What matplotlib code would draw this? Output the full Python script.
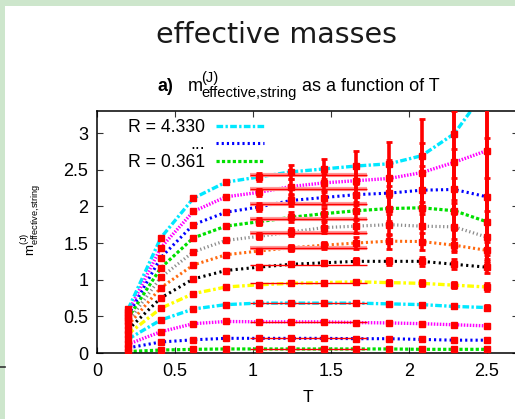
import matplotlib
matplotlib.use("Agg")
import matplotlib.pyplot as plt
from matplotlib.lines import Line2D
from matplotlib.patches import Rectangle

plt.rcParams['font.family'] = ['Liberation Sans', 'DejaVu Sans']
plt.rcParams['mathtext.fontset'] = 'custom'
plt.rcParams['mathtext.rm'] = 'Liberation Sans'
plt.rcParams['mathtext.it'] = 'Liberation Sans:italic'
plt.rcParams['mathtext.bf'] = 'Liberation Sans:bold'

# ---------------- data ----------------
T = [0.2, 0.409, 0.618, 0.827, 1.036, 1.245, 1.455, 1.664, 1.873, 2.082, 2.291, 2.5]

m_c0 = [0.02, 0.04, 0.05, 0.055, 0.055, 0.055, 0.055, 0.055, 0.055, 0.05, 0.05, 0.05]
m_c1 = [0.07, 0.15, 0.18, 0.20, 0.20, 0.20, 0.20, 0.195, 0.195, 0.185, 0.175, 0.175]
m_c2 = [0.12, 0.29, 0.40, 0.43, 0.425, 0.425, 0.425, 0.415, 0.41, 0.40, 0.385, 0.37]
m_c3 = [0.19, 0.45, 0.60, 0.66, 0.68, 0.68, 0.68, 0.68, 0.67, 0.66, 0.635, 0.62]
m_c4 = [0.26, 0.61, 0.81, 0.90, 0.93, 0.95, 0.96, 0.97, 0.96, 0.95, 0.925, 0.90]
m_c5 = [0.32, 0.75, 1.01, 1.125, 1.17, 1.21, 1.23, 1.25, 1.25, 1.25, 1.21, 1.17]
m_c6 = [0.38, 0.89, 1.20, 1.34, 1.39, 1.435, 1.47, 1.50, 1.525, 1.52, 1.47, 1.40]
m_c7 = [0.43, 1.03, 1.38, 1.535, 1.59, 1.65, 1.71, 1.73, 1.75, 1.73, 1.72, 1.58]
m_c8 = [0.48, 1.16, 1.57, 1.73, 1.79, 1.85, 1.90, 1.94, 1.97, 1.98, 1.94, 1.79]
m_c9 = [0.52, 1.30, 1.75, 1.92, 1.99, 2.08, 2.12, 2.16, 2.18, 2.22, 2.23, 2.13]
m_c10 = [0.56, 1.435, 1.93, 2.13, 2.19, 2.27, 2.32, 2.35, 2.38, 2.46, 2.60, 2.76]
m_c11 = [0.60, 1.57, 2.11, 2.33, 2.40, 2.47, 2.51, 2.55, 2.58, 2.69, 2.99, 3.6]

e_c0 = [0.01] * 12
e_c1 = [0.01] * 12
e_c2 = [0.015] * 12
e_c3 = [0.02] * 9 + [0.02, 0.025, 0.03]
e_c4 = [0.02] * 7 + [0.03, 0.03, 0.04, 0.04, 0.05]
e_c5 = [0.02] * 4 + [0.03, 0.03, 0.03, 0.04, 0.05, 0.06, 0.07, 0.08]
e_c6 = [0.02] * 4 + [0.03, 0.04, 0.05, 0.08, 0.10, 0.12, 0.09, 0.12]
e_c7 = [0.02] * 4 + [0.04, 0.05, 0.07, 0.10, 0.14, 0.20, 0.32, 0.35]
e_c8 = [0.02] * 4 + [0.05, 0.07, 0.08, 0.12, 0.17, 0.27, 0.45, 0.60]
e_c9 = [0.02] * 4 + [0.05, 0.08, 0.10, 0.14, 0.20, 0.33, 0.55, 0.80]
e_c10 = [0.02] * 4 + [0.05, 0.10, 0.12, 0.17, 0.25, 0.40, 0.70, 1.00]
e_c11 = [0.02] * 4 + [0.05, 0.10, 0.14, 0.20, 0.30, 0.50, 0.90, 1.50]

fit_values = [0.05, 0.20, 0.425, 0.68, 0.95, 1.20, 1.43, 1.63, 1.83, 2.03, 2.23, 2.43]
fit_range = [0.98, 1.73]

legend_labels = ["R = 4.330", "...", "R = 0.361"]
xticks = [0, 0.5, 1, 1.5, 2, 2.5]
xtick_labels = ["0", "0.5", "1", "1.5", "2", "2.5"]
yticks = [0, 0.5, 1, 1.5, 2, 2.5, 3]
ytick_labels = ["0", "0.5", "1", "1.5", "2", "2.5", "3"]

curves = [m_c0, m_c1, m_c2, m_c3, m_c4, m_c5, m_c6, m_c7, m_c8, m_c9, m_c10, m_c11]
errors = [e_c0, e_c1, e_c2, e_c3, e_c4, e_c5, e_c6, e_c7, e_c8, e_c9, e_c10, e_c11]

style_green = dict(color='#00e000', lw=2.3, dashes=(1.0, 0.7))
style_blue = dict(color='#0000ff', lw=2.2, dashes=(0.7, 1.0))
style_mag = dict(color='#ff00ff', lw=2.4, dashes=(0.45, 0.45))
style_cyan = dict(color='#00e8ff', lw=2.4, dashes=(2.0, 0.7, 0.7, 0.7))
style_yellow = dict(color='#ffff00', lw=2.4, dashes=(2.0, 0.8, 0.8, 0.8))
style_black = dict(color='#000000', lw=2.2, dashes=(0.7, 1.1))
style_orange = dict(color='#ff6a10', lw=2.2, dashes=(0.7, 0.9))
style_gray = dict(color='#8c8c8c', lw=2.3, dashes=(0.4, 0.8))
styles = [style_green, style_blue, style_mag, style_cyan, style_yellow, style_black,
          style_orange, style_gray, style_green, style_blue, style_mag, style_cyan]

W, H = 515, 419
fig = plt.figure(figsize=(W / 100, H / 100), dpi=100)
fig.patch.set_facecolor('#cde6cc')
fig.add_artist(Rectangle((5 / W, 0), 1, 1 - 6 / H, transform=fig.transFigure,
                         facecolor='white', edgecolor='none', zorder=0))
fig.add_artist(Line2D([0, 5 / W], [1 - 367 / H, 1 - 367 / H], transform=fig.transFigure,
                      color='#333333', lw=1.2))

ax = fig.add_axes([97 / W, 1 - 353 / H, (518 - 97) / W, (353 - 111) / H])
ax.set_facecolor('none')

for vals, st in zip(curves, styles):
    ax.plot(T, vals, zorder=2, **st)

ax.hlines(fit_values[6:], fit_range[0], fit_range[1], colors='#ff9a9a', lw=3.0, zorder=3)
ax.hlines(fit_values, fit_range[0], fit_range[1], colors='#ff0000', lw=1.0, zorder=3)

for vals, err in zip(curves, errors):
    ax.errorbar(T, vals, yerr=err, fmt='s', color='#ff0000', ms=5, mec='#ff0000',
                elinewidth=2.6, capsize=2.5, capthick=2.0, zorder=4)

ax.set_xlim(0, 2.7)
ax.set_ylim(0, 3.3)
ax.set_xticks(xticks)
ax.set_xticklabels(xtick_labels)
ax.set_yticks(yticks)
ax.set_yticklabels(ytick_labels)
ax.tick_params(direction='in', length=4, width=0.8, top=True, right=True,
               labelsize=13, color='#333333')
ax.tick_params(axis='x', pad=7.5)
ax.tick_params(axis='y', pad=6.3)
for s in ax.spines.values():
    s.set_linewidth(1.1)

ax.set_xlabel("T", fontsize=12.5, labelpad=7)

handles = [Line2D([], [], **style_cyan), Line2D([], [], **style_blue), Line2D([], [], **style_green)]
ax.legend(handles, legend_labels, loc='upper left', bbox_to_anchor=(0.056, 0.997),
          frameon=False, markerfirst=False, fontsize=12.7, handlelength=2.7,
          handletextpad=0.65, labelspacing=0.03, borderaxespad=0)

def px(x, y):
    return x / W, 1 - y / H

fig.text(*px(276.5, 43), "effective masses", fontsize=20.5, family=['DejaVu Sans'],
         ha='center', va='baseline', color='#1a1a1a')

# subtitle built from pieces
fig.text(*px(157, 90.7), "a)", fontsize=13, fontweight='bold', ha='left', va='baseline')
fig.text(*px(188, 90.7), "m", fontsize=13, ha='left', va='baseline')
fig.text(*px(201.5, 96.5), "(J)\neffective,string", fontsize=10.6, ha='left', va='baseline',
         multialignment='left', linespacing=1.02)
fig.text(*px(302, 90.7), "as a function of T", fontsize=13, ha='left', va='baseline')

fig.text(*px(31, 220), r"$\mathrm{m}^{\mathrm{(J)}}_{\mathrm{effective{,}string}}$",
         fontsize=9.5, rotation=90, ha='center', va='center')

fig.savefig("out.png", dpi=100, facecolor=fig.get_facecolor())
